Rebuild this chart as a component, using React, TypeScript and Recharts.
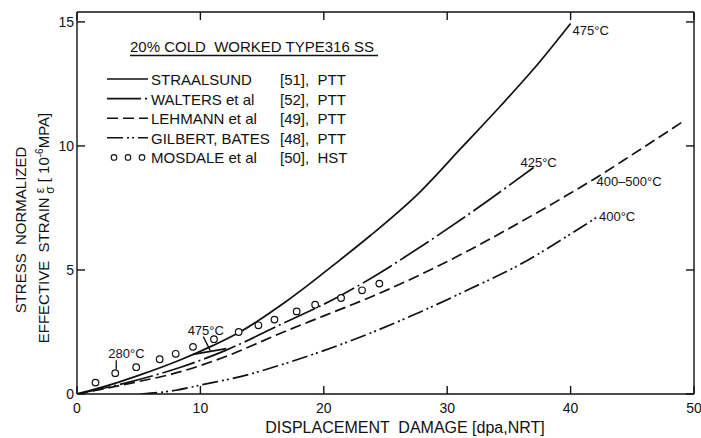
import React from 'react';
import { ComposedChart, Line, XAxis, YAxis, ReferenceDot, Customized } from 'recharts';

// ---- data ----
const straalsundX = [0, 3, 5, 8.4, 11, 13.2, 17, 21.3, 23.8, 27.6, 31.2, 34.3, 37, 40];
const straalsundY = [0, 0.42, 0.75, 1.38, 1.95, 2.5, 3.75, 5.4, 6.4, 8.05, 9.95, 11.6, 13.1, 14.94];

const walters425X = [0, 4, 8.4, 12, 16.5, 21.3, 24.6, 26.5, 31.9, 37];
const walters425Y = [0, 0.45, 1.08, 1.75, 2.8, 3.95, 4.9, 5.5, 7.3, 9.13];

const walters475X = [9.4, 12.1];
const walters475Y = [1.6, 1.83];

const lehmannX = [0, 4, 8.4, 12, 16.5, 20, 24, 28, 31.9, 36, 40, 42.5, 45, 49];
const lehmannY = [0, 0.4, 0.9, 1.5, 2.45, 3.15, 3.95, 4.85, 5.83, 6.95, 8.1, 8.85, 9.65, 10.95];

const gilbertX = [5.2, 8, 10, 13.8, 16.5, 20, 23.8, 28, 31.9, 36, 40, 42.3];
const gilbertY = [0, 0.15, 0.36, 0.77, 1.17, 1.75, 2.46, 3.35, 4.25, 5.25, 6.45, 7.18];

const mosdaleX = [1.5, 3.1, 4.8, 6.7, 8.0, 9.4, 11.1, 13.1, 14.7, 16.0, 17.8, 19.3, 21.4, 23.1, 24.5];
const mosdaleY = [0.46, 0.84, 1.08, 1.4, 1.62, 1.9, 2.21, 2.5, 2.77, 3.0, 3.33, 3.6, 3.87, 4.18, 4.45];

const xTicks = [0, 10, 20, 30, 40, 50];
const yTicks = [0, 5, 10, 15];

const legendTitle = '20% COLD  WORKED TYPE316 SS';
const legendNames = ['STRAALSUND', 'WALTERS et al', 'LEHMANN et al', 'GILBERT, BATES', 'MOSDALE et al'];
const legendRefs = ['[51],  PTT', '[52],  PTT', '[49],  PTT', '[48],  PTT', '[50],  HST'];

const xTitle = 'DISPLACEMENT  DAMAGE [dpa,NRT]';
const yTitle1 = 'STRESS  NORMALIZED';
const yTitle2 = 'EFFECTIVE  STRAIN ';

// annotation anchors (data coordinates) and texts
const annStraalsundEnd = { x: straalsundX[straalsundX.length - 1], y: straalsundY[straalsundY.length - 1], text: '475°C' };
const annWaltersEnd = { x: walters425X[walters425X.length - 1], y: walters425Y[walters425Y.length - 1], text: '425°C' };
const annLehmann = { x: lehmannX[11], y: lehmannY[11], text: '400–500°C' };
const annGilbertEnd = { x: gilbertX[gilbertX.length - 1], y: gilbertY[gilbertY.length - 1], text: '400°C' };
const ann280 = { x: mosdaleX[1], y: mosdaleY[1], text: '280°C' };
const ann475small = { x: 10.8, y: 1.75, text: '475°C' };

// ---- styles ----
const FONT = "'Liberation Sans', Arial, Helvetica, sans-serif";
const INK = '#111';
const DASH_WALTERS = '34 4 2 4';
const DASH_LEHMANN = '11 5';
const DASH_GILBERT = '16 4 2 3 2 4';
const legendDashes = ['', DASH_WALTERS, DASH_LEHMANN, DASH_GILBERT, 'dots'];

const pts = (xs: number[], ys: number[]) => xs.map((x, i) => ({ x, y: ys[i] }));

function Overlay() {
  return (
    <g fontFamily={FONT} fill={INK}>
      <text x={130} y={52} fontSize={15} style={{ whiteSpace: 'pre' }}>{legendTitle}</text>
      <line x1={130} x2={378} y1={55.5} y2={55.5} stroke={INK} strokeWidth={1.3} />
      {legendNames.map((name, i) => {
        const base = 85 + i * 19.6;
        const ly = base - 6;
        const d = legendDashes[i];
        return (
          <g key={name}>
            {d === 'dots' ? (
              [114, 128, 142].map((cx) => (
                <circle key={cx} cx={cx} cy={ly} r={2.8} fill="#fff" stroke={INK} strokeWidth={1.1} />
              ))
            ) : (
              <line x1={107} x2={148} y1={ly} y2={ly} stroke={INK} strokeWidth={1.6} strokeDasharray={d || undefined} />
            )}
            <text x={151} y={base} fontSize={15}>{name}</text>
            <text x={280} y={base} fontSize={15} style={{ whiteSpace: 'pre' }}>{legendRefs[i]}</text>
          </g>
        );
      })}
      <text x={405} y={433} fontSize={16} textAnchor="middle" style={{ whiteSpace: 'pre' }}>{xTitle}</text>
      <text transform="translate(26,230) rotate(-90)" fontSize={15} textAnchor="middle" style={{ whiteSpace: 'pre' }}>{yTitle1}</text>
      <text transform="translate(49,228) rotate(-90)" fontSize={15} textAnchor="middle" style={{ whiteSpace: 'pre' }}>
        {yTitle2}
        <tspan fontSize={12} dy={-5}>ε</tspan>
        <tspan fontSize={12} dx={-6} dy={10}>σ</tspan>
        <tspan dy={-5}>{' [ 10'}</tspan>
        <tspan fontSize={10} dy={-6}>-6</tspan>
        <tspan dy={6}>MPA]</tspan>
      </text>
    </g>
  );
}

const annText = (text: string, dx: number, dy: number, anchor: string = 'start') => (p: any) => (
  <text x={p.cx + dx} y={p.cy + dy} fontSize={13} fontFamily={FONT} fill={INK} textAnchor={anchor}>{text}</text>
);

const ann280Shape = (p: any) => (
  <g>
    <line x1={p.cx + 1} x2={p.cx + 1} y1={p.cy - 13} y2={p.cy - 4} stroke={INK} strokeWidth={1.3} />
    <text x={p.cx - 7} y={p.cy - 15} fontSize={13} fontFamily={FONT} fill={INK}>{ann280.text}</text>
  </g>
);

const ann475Shape = (p: any) => (
  <g>
    <line x1={p.cx - 7} x2={p.cx} y1={p.cy - 14} y2={p.cy} stroke={INK} strokeWidth={1.3} />
    <text x={p.cx - 4.5} y={p.cy - 16} fontSize={13} fontFamily={FONT} fill={INK} textAnchor="middle">{ann475small.text}</text>
  </g>
);

const tickStyle = { fontFamily: FONT, fontSize: 14, fill: INK };

export default function App() {
  return (
    <div style={{ position: 'absolute', left: 0, top: 0, background: '#fff' }}>
      <ComposedChart width={701} height={438} margin={{ top: 12, right: 7, left: 37, bottom: 4 }}>
        <XAxis
          type="number"
          dataKey="x"
          domain={[0, 50]}
          ticks={xTicks}
          allowDataOverflow
          height={40}
          tickSize={-8}
          tickMargin={17}
          tick={tickStyle}
          stroke={INK}
          strokeWidth={1.4}
        />
        <XAxis
          xAxisId="top"
          orientation="top"
          type="number"
          dataKey="x"
          domain={[0, 50]}
          ticks={xTicks}
          allowDataOverflow
          mirror
          height={1}
          tickSize={8}
          tickFormatter={() => ''}
          stroke={INK}
          strokeWidth={1.4}
        />
        <YAxis
          type="number"
          domain={[0, 15.4]}
          ticks={yTicks}
          allowDataOverflow
          width={40}
          tickSize={-8}
          tickMargin={11}
          tick={tickStyle}
          stroke={INK}
          strokeWidth={1.4}
        />
        <YAxis
          yAxisId="right"
          orientation="right"
          type="number"
          domain={[0, 15.4]}
          ticks={yTicks}
          allowDataOverflow
          mirror
          width={1}
          tickSize={8}
          tickFormatter={() => ''}
          stroke={INK}
          strokeWidth={1.4}
        />
        <Line data={pts(straalsundX, straalsundY)} dataKey="y" type="monotone" stroke={INK} strokeWidth={1.7} dot={false} activeDot={false} isAnimationActive={false} />
        <Line data={pts(walters425X, walters425Y)} dataKey="y" type="monotone" stroke={INK} strokeWidth={1.7} strokeDasharray={DASH_WALTERS} dot={false} activeDot={false} isAnimationActive={false} />
        <Line data={pts(walters475X, walters475Y)} dataKey="y" type="linear" stroke={INK} strokeWidth={1.7} dot={false} activeDot={false} isAnimationActive={false} />
        <Line data={pts(lehmannX, lehmannY)} dataKey="y" type="monotone" stroke={INK} strokeWidth={1.7} strokeDasharray={DASH_LEHMANN} dot={false} activeDot={false} isAnimationActive={false} />
        <Line data={pts(gilbertX, gilbertY)} dataKey="y" type="monotone" stroke={INK} strokeWidth={1.7} strokeDasharray={DASH_GILBERT} dot={false} activeDot={false} isAnimationActive={false} />
        <Line data={pts(mosdaleX, mosdaleY)} dataKey="y" stroke="none" dot={{ r: 3.3, fill: '#fff', stroke: INK, strokeWidth: 1.2 }} activeDot={false} isAnimationActive={false} />
        <Line data={pts(mosdaleX, mosdaleY)} xAxisId="top" yAxisId="right" dataKey="y" stroke="none" dot={false} activeDot={false} legendType="none" isAnimationActive={false} />
        <ReferenceDot x={annStraalsundEnd.x} y={annStraalsundEnd.y} r={0} shape={annText(annStraalsundEnd.text, 2, 12)} />
        <ReferenceDot x={annWaltersEnd.x} y={annWaltersEnd.y} r={0} shape={annText(annWaltersEnd.text, 5, -1, 'middle')} />
        <ReferenceDot x={annLehmann.x} y={annLehmann.y} r={0} shape={annText(annLehmann.text, -5, 12)} />
        <ReferenceDot x={annGilbertEnd.x} y={annGilbertEnd.y} r={0} shape={annText(annGilbertEnd.text, 0, 5)} />
        <ReferenceDot x={ann280.x} y={ann280.y} r={0} shape={ann280Shape} />
        <ReferenceDot x={ann475small.x} y={ann475small.y} r={0} shape={ann475Shape} />
        <Customized component={Overlay} />
      </ComposedChart>
    </div>
  );
}
